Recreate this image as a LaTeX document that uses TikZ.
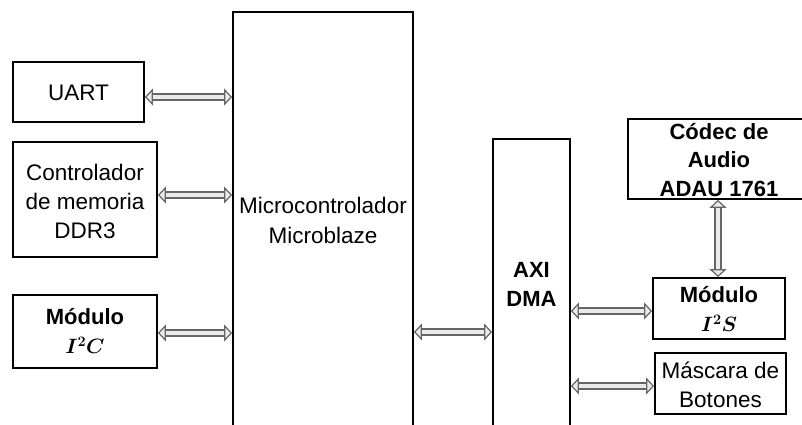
\documentclass[tikz,border=0pt]{standalone}
\usepackage{fontspec}
\setmainfont{Liberation Sans}
\usetikzlibrary{arrows.meta}
\begin{document}
\begin{tikzpicture}[x=1pt,y=-1pt,
  box/.style={draw=black, line width=1.8pt, inner sep=0pt, align=center},
  lbl/.style={inner sep=0pt, align=center, font=\fontsize{22.5}{29}\selectfont},
  blbl/.style={inner sep=0pt, align=center, font=\fontsize{22}{29}\selectfont\bfseries\boldmath},
  tip/.style={Triangle[fill=black!8, length=8pt, width=17pt, line width=1.2pt]},
  dbl/.style={draw=black!60, line width=1.2pt, double=black!8, double distance=4.8pt,
    {Triangle[fill=black!8, length=8pt, width=17pt, line width=1.2pt]}-{Triangle[fill=black!8, length=8pt, width=17pt, line width=1.2pt]}}
]
\useasboundingbox (0,0) rectangle (802,424);
\clip (0,0) rectangle (802,424);
\fill[white] (0,0) rectangle (802,424);

% boxes
\node[box, minimum width=131pt, minimum height=60pt] (uart) at (78.5,92) {};
\node[lbl] (uartt) at (78.5,93) {UART};
\node[box, minimum width=144pt, minimum height=115pt] (ddr) at (85,199.5) {};
\node[lbl] (ddrt) at (85,201) {Controlador\\de memoria\\DDR3};
\node[box, minimum width=144pt, minimum height=73pt] (i2c) at (85,331.5) {};
\node[blbl] (i2ct) at (85,331) {Módulo\\$I^2C$};

\node[box, minimum width=180pt, minimum height=448pt] (micro) at (323,236) {};
\node[lbl, font=\fontsize{22.5}{30}\selectfont] (microt) at (323,220) {Microcontrolador\\Microblaze};

\node[box, minimum width=77pt, minimum height=321pt] (axi) at (531.5,299.5) {};
\node[blbl] (axit) at (531.5,284) {AXI\\DMA};

\node[box, minimum width=182pt, minimum height=80pt] (codec) at (719,159) {};
\node[blbl, font=\fontsize{22}{28.5}\selectfont\bfseries] (codect) at (719,160) {Códec de\\Audio\\ADAU 1761};

\node[box, minimum width=132pt, minimum height=61pt] (i2s) at (719,308.5) {};
\node[blbl] (i2st) at (719,309) {Módulo\\$I^2S$};

\node[box, minimum width=131pt, minimum height=61pt] (masc) at (720.5,383.5) {};
\node[lbl] (masct) at (720.5,385) {Máscara de\\Botones};

% connectors
\draw[dbl] ([yshift=-5pt]uart.east) -- ([yshift=-5pt]uart.east -| micro.west);
\draw[dbl] ([yshift=4.5pt]ddr.east) -- ([yshift=4.5pt]ddr.east -| micro.west);
\draw[dbl] ([yshift=-1.5pt]i2c.east) -- ([yshift=-1.5pt]i2c.east -| micro.west);
\draw[dbl] ([yshift=-96pt]micro.east) -- ([yshift=-96pt]micro.east -| axi.west);
\draw[dbl] ([yshift=-2.5pt]i2s.west -| axi.east) -- ([yshift=-2.5pt]i2s.west);
\draw[dbl] ([yshift=-2.5pt]masc.west -| axi.east) -- ([yshift=-2.5pt]masc.west);
\draw[dbl] ([xshift=-1pt]codec.south) -- ([xshift=-1pt]i2s.north);
\end{tikzpicture}
\end{document}
